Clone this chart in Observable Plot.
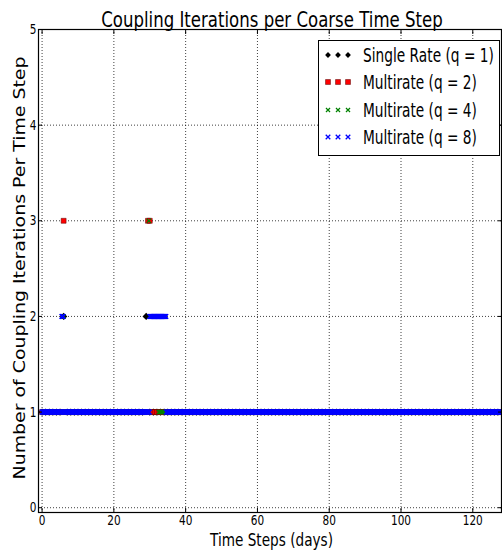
<!DOCTYPE html>
<html><head><meta charset="utf-8">
<script src="https://cdn.jsdelivr.net/npm/d3@7"></script>
<script src="https://cdn.jsdelivr.net/npm/@observablehq/plot@0.6"></script>
<style>body{margin:0;background:#fff}</style>
</head><body><div id="chart"></div>
<script>
const chartTitle = "Coupling Iterations per Coarse Time Step";
const xLabel = "Time Steps (days)";
const yLabel = "Number of Coupling Iterations Per Time Step";
const seriesNames = ["Single Rate (q = 1)", "Multirate (q = 2)", "Multirate (q = 4)", "Multirate (q = 8)"];
const seriesColors = ["black", "red", "green", "blue"];
const seriesSymbols = ["diamond2", "square", "times", "times"];
const substeps = [1, 2, 4, 8];
const lastStep = [127, 128, 127.75, 127.875];
const baseIterations = 1;
// runs of non-default iteration counts: [from, to, iterations]
const runsQ1 = [[6, 6, 2], [29, 29, 2]];
const runsQ2 = [[6, 6, 3], [29.5, 30, 3]];
const runsQ4 = [[6, 6, 2], [29.75, 29.75, 3], [30, 32.25, 2]];
const runsQ8 = [[5.5, 5.875, 2], [30, 34.5, 2]];
const xTicks = [0, 20, 40, 60, 80, 100, 120];
const yTicks = [0, 1, 2, 3, 4, 5];

const runs = [runsQ1, runsQ2, runsQ4, runsQ8];
const rows = [];
seriesNames.forEach((name, i) => {
  const q = substeps[i];
  for (let k = 0; k <= lastStep[i] * q; k++) {
    const t = k / q;
    const run = runs[i].find(([a, b]) => t >= a - 1e-9 && t <= b + 1e-9);
    rows.push({series: name, t, iterations: run ? run[2] : baseIterations});
  }
});

const dotStyle = [
  {symbol: seriesSymbols[0], fill: seriesColors[0], r: 3.3},
  {symbol: seriesSymbols[1], fill: seriesColors[1], stroke: "#500", strokeWidth: 0.5, r: 2.8},
  {symbol: seriesSymbols[2], fill: "none", stroke: seriesColors[2], strokeWidth: 1.2, r: 2},
  {symbol: seriesSymbols[3], fill: "none", stroke: seriesColors[3], strokeWidth: 1.3, r: 2.2}
];

const font = "DejaVu Sans, sans-serif";
const plot = Plot.plot({
  width: 502, height: 554,
  marginLeft: 38, marginRight: 1, marginTop: 29, marginBottom: 42,
  style: {fontFamily: font, fontSize: "14px", background: "white", color: "black"},
  x: {domain: [-1, 128]},
  y: {domain: [-0.05, 5]},
  marks: [
    Plot.gridX(xTicks, {stroke: "black", strokeOpacity: 0.75, strokeDasharray: "1,2"}),
    Plot.gridY(yTicks, {stroke: "black", strokeOpacity: 0.75, strokeDasharray: "1,2"}),
    ...seriesNames.map((name, i) => Plot.dot(rows.filter(d => d.series === name), {x: "t", y: "iterations", ...dotStyle[i]})),
    Plot.frame({stroke: "black", strokeWidth: 1.2}),
    Plot.axisX(xTicks, {anchor: "bottom", tickSize: 0, tickPadding: 3, label: null, fontSize: 14, tickFormat: d => String(d)}),
    Plot.axisY(yTicks, {anchor: "left", tickSize: 0, tickPadding: 2, label: null, fontSize: 14, tickFormat: d => String(d)}),
    Plot.axisX(xTicks, {anchor: "bottom", tickSize: -4, tickFormat: () => "", label: null}),
    Plot.axisX(xTicks, {anchor: "top", tickSize: -4, tickFormat: () => "", label: null}),
    Plot.axisY(yTicks, {anchor: "left", tickSize: -4, tickFormat: () => "", label: null}),
    Plot.axisY(yTicks, {anchor: "right", tickSize: -4, tickFormat: () => "", label: null})
  ]
});
document.getElementById("chart").appendChild(plot);

// reference glyphs are horizontally compressed: shrink font, stretch vertically
const squeeze = 0.75;
d3.select(plot).selectAll("text").each(function() {
  if (!this.textContent) return;
  const tr = this.getAttribute("transform") || "";
  this.setAttribute("font-size", 14 * squeeze);
  this.setAttribute("transform", tr + ` scale(1,${1 / squeeze})`);
});

const svg = d3.select(plot);
function fitText(parent, str, x, y, glyphSize, target, anchor) {
  const t = parent.append("text").attr("font-family", font).attr("font-size", glyphSize)
    .attr("fill", "black").attr("text-anchor", anchor).text(str);
  const nat = t.node().getComputedTextLength();
  const s = target / nat;
  t.attr("font-size", glyphSize * s).attr("transform", `translate(${x},${y}) scale(1,${1 / s})`);
  return t;
}
fitText(svg, chartTitle, 272, 27, 20.5, 342, "middle");
fitText(svg, xLabel, 271.5, 546, 18, 123, "middle");
svg.append("text").attr("transform", "translate(25,268) rotate(-90)").attr("text-anchor", "middle")
  .attr("font-family", font).attr("font-size", 16).attr("fill", "black")
  .attr("textLength", 423).attr("lengthAdjust", "spacingAndGlyphs").text(yLabel);

// legend
const lg = svg.append("g");
lg.append("rect").attr("x", 318.5).attr("y", 40.5).attr("width", 181).attr("height", 115)
  .attr("fill", "white").attr("stroke", "black").attr("stroke-width", 1);
const symMap = {diamond2: d3.symbolDiamond2, square: d3.symbolSquare, times: d3.symbolTimes};
const rowY = [55, 82, 110, 137];
const textLen = [131, 114, 114, 114];
seriesNames.forEach((name, i) => {
  const st = dotStyle[i];
  const rr = i === 0 ? 2.6 : st.r;
  const path = d3.symbol(symMap[st.symbol], Math.PI * rr * rr)();
  [328, 338, 348].forEach(mx => {
    lg.append("path").attr("d", path).attr("transform", `translate(${mx},${rowY[i]})`)
      .attr("fill", st.fill).attr("stroke", st.stroke || "none").attr("stroke-width", st.strokeWidth || 0);
  });
  fitText(lg, name, 363, rowY[i] + 7, 20, textLen[i], "start");
});
</script>
</body></html>
